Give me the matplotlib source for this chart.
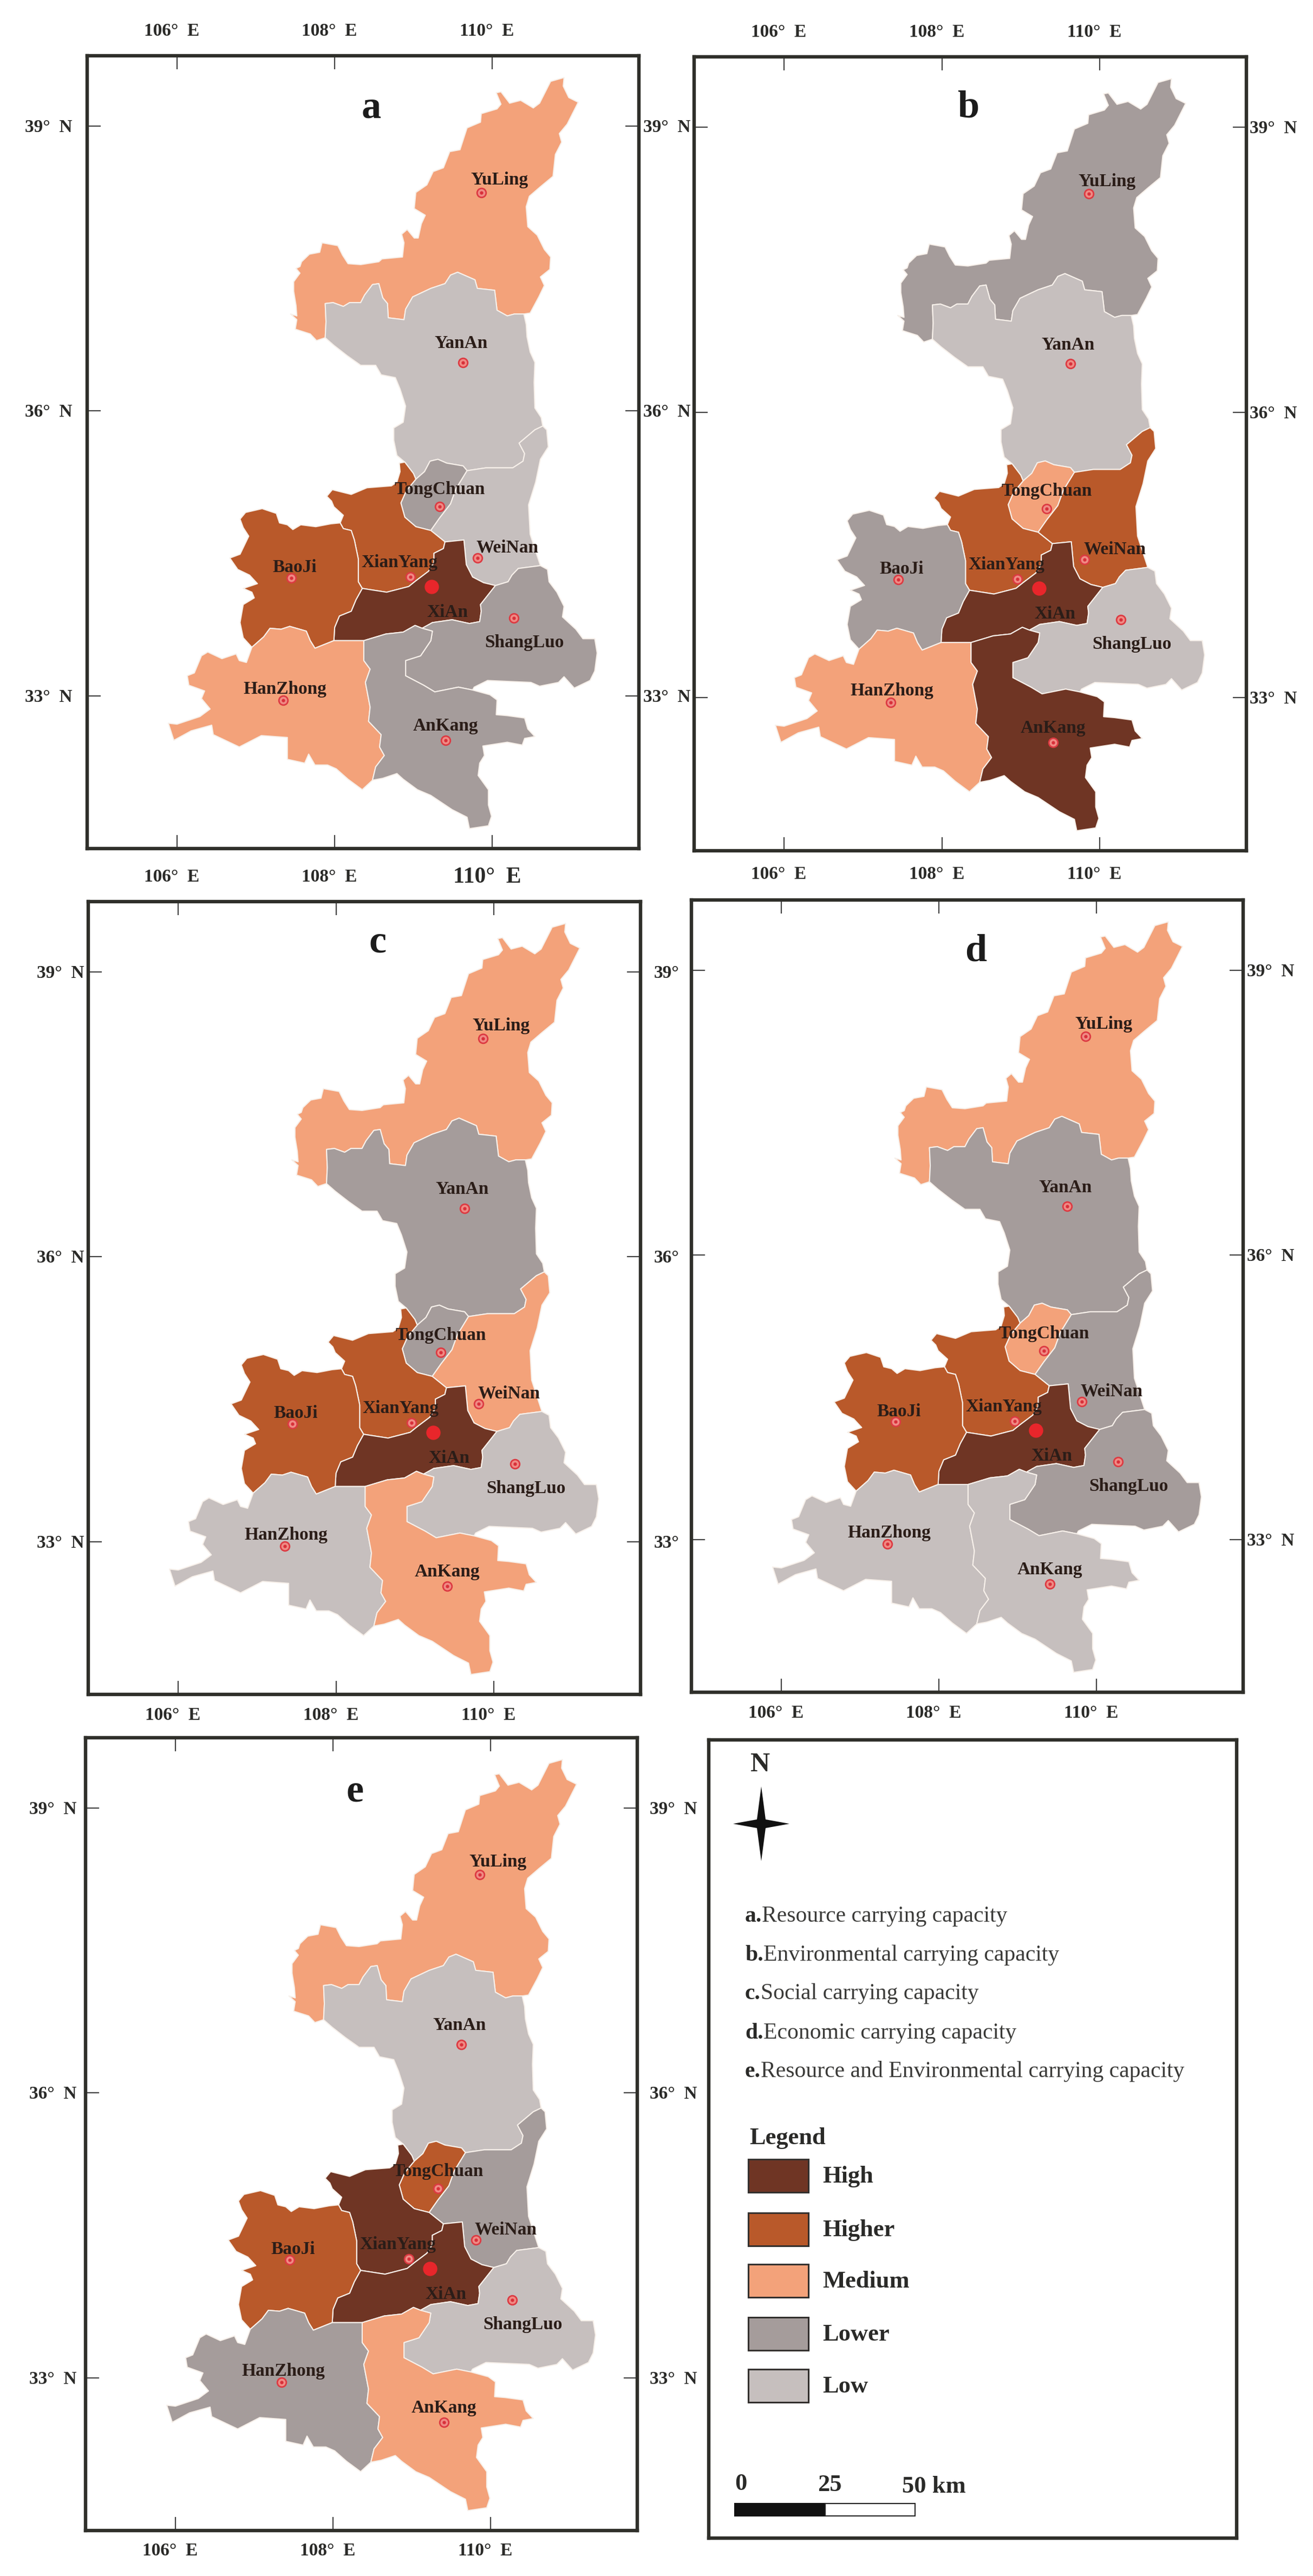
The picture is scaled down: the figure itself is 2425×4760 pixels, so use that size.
import matplotlib
matplotlib.use('Agg')
import matplotlib.pyplot as plt
from matplotlib.patches import Rectangle, Polygon

plt.rcParams['font.family'] = ['Liberation Serif', 'DejaVu Serif']

W, H = 2425, 4760

# border arcs between prefectures, (lon, lat)
yuling_outer = [(107.88, 36.77), (107.77, 36.74), (107.69, 36.81), (107.50, 36.86), (107.52, 36.96), (107.44, 37.02),
                (107.52, 37.00), (107.51, 37.11), (107.48, 37.26), (107.48, 37.36), (107.56, 37.45), (107.51, 37.50),
                (107.56, 37.52), (107.58, 37.57), (107.68, 37.65), (107.81, 37.67), (107.84, 37.77), (108.04, 37.74),
                (108.10, 37.64), (108.17, 37.55), (108.33, 37.54), (108.56, 37.57), (108.60, 37.60), (108.86, 37.62),
                (108.88, 37.77), (108.85, 37.86), (108.92, 37.91), (109.01, 37.82), (109.06, 37.82), (109.10, 37.97),
                (109.15, 38.06), (109.01, 38.13), (109.03, 38.30), (109.17, 38.38), (109.25, 38.52), (109.38, 38.56),
                (109.46, 38.73), (109.59, 38.75), (109.68, 38.98), (109.85, 39.04), (109.86, 39.13), (110.06, 39.18),
                (110.11, 39.23), (110.05, 39.35), (110.11, 39.36), (110.22, 39.24), (110.36, 39.27), (110.52, 39.19),
                (110.60, 39.24), (110.74, 39.47), (110.91, 39.51), (110.90, 39.42), (110.97, 39.30), (111.09, 39.25),
                (110.95, 39.02), (110.85, 38.92), (110.88, 38.83), (110.80, 38.70), (110.77, 38.47), (110.61, 38.36),
                (110.47, 38.26), (110.43, 38.15), (110.45, 37.94), (110.57, 37.85), (110.66, 37.70), (110.74, 37.62),
                (110.73, 37.49), (110.61, 37.41), (110.66, 37.32), (110.59, 37.20), (110.48, 37.03), (110.40, 37.02)]
yuling_yanan = [(110.40, 37.02), (110.28, 37.02), (110.19, 37.00), (110.06, 37.06), (110.03, 37.27), (109.81, 37.29),
                (109.78, 37.38), (109.56, 37.46), (109.47, 37.43), (109.40, 37.34), (109.22, 37.29), (108.99, 37.20),
                (108.90, 37.07), (108.88, 36.96), (108.68, 36.98), (108.67, 37.13), (108.61, 37.19), (108.56, 37.34),
                (108.48, 37.33), (108.38, 37.22), (108.33, 37.14), (108.19, 37.14), (108.11, 37.10), (107.98, 37.14),
                (107.88, 37.13), (107.89, 36.94), (107.88, 36.77)]
yanan_east = [(110.40, 37.02), (110.43, 36.91), (110.44, 36.78), (110.48, 36.62), (110.54, 36.51), (110.53, 36.30),
              (110.54, 36.03), (110.62, 35.93), (110.64, 35.84)]
yanan_weinan = [(110.64, 35.84), (110.54, 35.80), (110.34, 35.66), (110.41, 35.55), (110.39, 35.47), (110.26, 35.40),
                (109.92, 35.40), (109.68, 35.37)]
yanan_tongchuan = [(109.68, 35.37), (109.63, 35.42), (109.42, 35.45), (109.31, 35.49), (109.21, 35.47), (109.14, 35.36),
                   (109.03, 35.28)]
yanan_xianyang = [(109.03, 35.28), (109.00, 35.34), (108.89, 35.46)]
yanan_west = [(108.89, 35.46), (108.79, 35.53), (108.75, 35.69), (108.75, 35.82), (108.87, 35.88), (108.90, 36.05),
              (108.83, 36.23), (108.77, 36.35), (108.59, 36.38), (108.52, 36.48), (108.33, 36.48), (108.16, 36.58),
              (107.99, 36.69), (107.88, 36.77)]
weinan_east = [(110.64, 35.84), (110.69, 35.80), (110.71, 35.62), (110.61, 35.49), (110.55, 35.25), (110.46, 35.01),
               (110.48, 34.70), (110.61, 34.37)]
weinan_shangluo = [(110.61, 34.37), (110.33, 34.34), (110.25, 34.27), (110.20, 34.20), (110.04, 34.16)]
weinan_xian = [(110.04, 34.16), (109.89, 34.19), (109.75, 34.25), (109.67, 34.38), (109.64, 34.64), (109.40, 34.62)]
weinan_xianyang = [(109.40, 34.62), (109.22, 34.74)]
tc_weinan = [(109.22, 34.74), (109.33, 34.87), (109.47, 35.02), (109.54, 35.18), (109.68, 35.37)]
tc_xianyang = [(109.03, 35.28), (108.91, 35.16), (108.84, 35.03), (108.89, 34.88), (109.03, 34.78), (109.22, 34.74)]
xianyang_xian = [(109.40, 34.62), (109.38, 34.55), (109.26, 34.50), (109.26, 34.40), (109.19, 34.31), (109.03, 34.21),
                 (108.94, 34.15), (108.66, 34.09), (108.35, 34.13)]
xianyang_baoji = [(108.35, 34.13), (108.30, 34.20), (108.30, 34.44), (108.25, 34.64), (108.21, 34.74), (108.11, 34.76),
                  (108.07, 34.82)]
xianyang_north = [(108.07, 34.82), (108.11, 34.90), (107.99, 34.99), (107.96, 35.05), (107.90, 35.10), (107.97, 35.17),
                  (108.21, 35.12), (108.41, 35.19), (108.72, 35.21), (108.79, 35.25), (108.83, 35.36), (108.82, 35.45),
                  (108.89, 35.46)]
baoji_xian = [(108.35, 34.13), (108.27, 34.01), (108.21, 33.89), (108.06, 33.84), (108.00, 33.72), (107.99, 33.58)]
baoji_hanzhong = [(107.99, 33.58), (107.75, 33.50), (107.69, 33.58), (107.64, 33.68), (107.43, 33.73), (107.32, 33.70),
                  (107.18, 33.71), (107.10, 33.62), (106.95, 33.51)]
baoji_west = [(106.95, 33.51), (106.84, 33.61), (106.80, 33.77), (106.84, 33.96), (106.98, 34.03), (106.95, 34.09),
              (106.84, 34.13), (107.02, 34.18), (106.92, 34.27), (106.77, 34.33), (106.67, 34.45), (106.80, 34.49),
              (106.91, 34.68), (106.84, 34.77), (106.80, 34.86), (106.87, 34.93), (107.08, 34.97), (107.26, 34.92),
              (107.30, 34.82), (107.40, 34.80), (107.47, 34.75), (107.57, 34.80), (107.76, 34.78), (107.95, 34.81),
              (108.07, 34.82)]
xian_hanzhong = [(107.99, 33.58), (108.37, 33.58)]
xian_ankang = [(108.37, 33.58), (108.65, 33.65), (108.87, 33.67), (109.02, 33.74), (109.11, 33.71)]
xian_shangluo = [(109.11, 33.71), (109.24, 33.77), (109.49, 33.80), (109.71, 33.76), (109.84, 33.78), (109.86, 33.89),
                 (109.85, 33.96), (110.04, 34.16)]
shangluo_east = [(110.61, 34.37), (110.70, 34.33), (110.72, 34.20), (110.82, 34.09), (110.91, 33.94), (110.89, 33.83),
                 (111.06, 33.70), (111.15, 33.60), (111.30, 33.60), (111.33, 33.45), (111.30, 33.26), (111.24, 33.16),
                 (111.04, 33.08), (110.91, 33.20), (110.84, 33.14), (110.60, 33.10), (110.49, 33.14), (109.94, 33.16),
                 (109.77, 33.09), (109.75, 33.06)]
shangluo_ankang = [(109.75, 33.06), (109.57, 33.09), (109.27, 33.04), (109.13, 33.11), (108.90, 33.21), (108.90, 33.37),
                   (109.09, 33.42), (109.22, 33.58), (109.24, 33.68), (109.11, 33.71)]
ankang_south = [(109.75, 33.06), (109.97, 33.01), (110.06, 32.955), (110.05, 32.80), (110.19, 32.79), (110.41, 32.765),
                (110.45, 32.65), (110.54, 32.57), (110.41, 32.55), (110.38, 32.48), (110.19, 32.51), (109.88, 32.47),
                (109.90, 32.37), (109.84, 32.29), (109.82, 32.16), (109.95, 32.01), (109.95, 31.85), (109.99, 31.73),
                (109.95, 31.63), (109.71, 31.60), (109.68, 31.72), (109.49, 31.80), (109.22, 31.95), (109.05, 32.01),
                (108.87, 32.12), (108.79, 32.18), (108.61, 32.13), (108.48, 32.11)]
ankang_hanzhong = [(108.48, 32.11), (108.52, 32.25), (108.63, 32.37), (108.57, 32.46), (108.59, 32.59), (108.43, 32.73),
                   (108.45, 32.88), (108.39, 33.14), (108.45, 33.28), (108.37, 33.37), (108.37, 33.58)]
hanzhong_outer = [(108.48, 32.11), (108.35, 32.01), (108.17, 32.12), (108.02, 32.23), (107.91, 32.27), (107.75, 32.27),
                  (107.67, 32.385), (107.62, 32.29), (107.40, 32.33), (107.40, 32.56), (107.07, 32.58), (106.79, 32.46),
                  (106.46, 32.59), (106.44, 32.69), (106.18, 32.63), (105.96, 32.53), (105.89, 32.71), (106.00, 32.70),
                  (106.29, 32.78), (106.42, 32.86), (106.31, 32.97), (106.35, 33.05), (106.15, 33.11), (106.13, 33.21),
                  (106.22, 33.24), (106.31, 33.42), (106.39, 33.46), (106.57, 33.39), (106.75, 33.44), (106.79, 33.37),
                  (106.88, 33.35), (106.95, 33.51)]


def rev(arc):
    return arc[::-1]


regions = {
    'YuLing': yuling_outer + yuling_yanan,
    'YanAn': rev(yuling_yanan) + yanan_east + yanan_weinan + yanan_tongchuan + yanan_xianyang + yanan_west,
    'TongChuan': rev(yanan_tongchuan) + rev(tc_weinan) + rev(tc_xianyang),
    'WeiNan': rev(yanan_weinan) + weinan_east + weinan_shangluo + weinan_xian + weinan_xianyang + tc_weinan,
    'XianYang': xianyang_north + rev(yanan_xianyang) + tc_xianyang + rev(weinan_xianyang) + xianyang_xian + xianyang_baoji,
    'XiAn': rev(xianyang_xian) + rev(weinan_xian) + rev(xian_shangluo) + rev(xian_ankang) + rev(xian_hanzhong) + rev(baoji_xian),
    'BaoJi': rev(xianyang_baoji) + baoji_xian + baoji_hanzhong + baoji_west,
    'ShangLuo': shangluo_east + shangluo_ankang + xian_shangluo + rev(weinan_shangluo),
    'HanZhong': hanzhong_outer + rev(baoji_hanzhong) + xian_hanzhong + rev(ankang_hanzhong),
    'AnKang': ankang_south + ankang_hanzhong + xian_ankang + rev(shangluo_ankang),
}

cities = ['YuLing', 'YanAn', 'TongChuan', 'WeiNan', 'XianYang', 'XiAn', 'BaoJi', 'ShangLuo', 'HanZhong', 'AnKang']
city_lon = [109.86, 109.63, 109.33, 109.81, 108.96, 109.23, 107.45, 110.27, 107.35, 109.41]
city_lat = [38.30, 36.51, 34.99, 34.45, 34.25, 34.15, 34.24, 33.82, 32.95, 32.53]
label_lon = [110.09, 109.60, 109.33, 110.19, 108.82, 109.43, 107.49, 110.41, 107.37, 109.41]
label_lat = [38.43, 36.71, 35.17, 34.56, 34.40, 33.88, 34.35, 33.56, 33.07, 32.68]

# class of every city in each panel, same order as cities
levels_a = ['Medium', 'Low', 'Lower', 'Low', 'Higher', 'High', 'Higher', 'Lower', 'Medium', 'Lower']
levels_b = ['Lower', 'Low', 'Medium', 'Higher', 'Higher', 'High', 'Lower', 'Low', 'Medium', 'High']
levels_c = ['Medium', 'Lower', 'Lower', 'Medium', 'Higher', 'High', 'Higher', 'Low', 'Low', 'Medium']
levels_d = ['Medium', 'Lower', 'Medium', 'Lower', 'Higher', 'High', 'Higher', 'Lower', 'Low', 'Low']
levels_e = ['Medium', 'Low', 'Higher', 'Lower', 'High', 'High', 'Higher', 'Low', 'Lower', 'Medium']

legend_names = ['High', 'Higher', 'Medium', 'Lower', 'Low']
legend_colors = ['#6F3524', '#B9592A', '#F3A27A', '#A59C9B', '#C6BFBE']
colors = dict(zip(legend_names, legend_colors))

lon_ticks = [106, 108, 110]
lat_ticks = [33, 36, 39]

captions = [('a.', 'Resource carrying capacity'), ('b.', 'Environmental carrying capacity'),
            ('c.', 'Social carrying capacity'), ('d.', 'Economic carrying capacity'),
            ('e.', 'Resource and Environmental carrying capacity')]
scale_km = [0, 25, 50]

# panel: letter, levels, frame in pixels (left, top, right, bottom), letter position,
# gaps to tick labels (left, right, top, bottom), text of the right labels
# the top labels of c, d and e are the bottom labels of the panel above
panels = [
    ('a', levels_a, (161, 103, 1180, 1568), (0.515, 0.066), (27, 8, 45, 53), True),
    ('b', levels_b, (1282, 105, 2302, 1572), (0.496, 0.064), (None, 6, 45, 44), True),
    ('c', levels_c, (163, 1666, 1183, 3131), (0.524, 0.052), (8, 25, None, 38), False),
    ('d', levels_d, (1277, 1663, 2296, 3127), (0.515, 0.065), (None, 7, None, 39), True),
    ('e', levels_e, (158, 3211, 1177, 4676), (0.488, 0.068), (16, 23, None, 37), True),
]

txt = '#2a2a28'
frame_col = '#2f2f2a'
fig = plt.figure(figsize=(W / 100, H / 100), dpi=100)


def make_axes(box):
    l, t, r, b = box
    ax = fig.add_axes([l / W, 1 - b / H, (r - l) / W, (b - t) / H])
    for s in ax.spines.values():
        s.set_linewidth(4.6)
        s.set_color(frame_col)
    return ax


for letter, levels, box, letter_pos, gaps, has_n in panels:
    ax = make_axes(box)
    ax.set_xlim(104.86, 111.86)
    ax.set_ylim(31.39, 39.74)
    ax.set_xticks(lon_ticks)
    ax.set_yticks(lat_ticks)
    ax.tick_params(direction='in', length=18, width=1.6, color='#444444', top=True, right=True,
                   labelbottom=False, labelleft=False)

    for city, level in zip(cities, levels):
        ring = regions[city]
        ax.fill([p[0] for p in ring], [p[1] for p in ring], facecolor=colors[level],
                edgecolor='#F7F0EA', linewidth=1.5, joinstyle='round', zorder=2)

    for i, city in enumerate(cities):
        if city == 'XiAn':
            ax.plot(city_lon[i], city_lat[i], 'o', ms=18, mfc='#E8262B', mec='#E8262B', zorder=3)
        else:
            ax.plot(city_lon[i], city_lat[i], 'o', ms=12, mfc='#F08A84', mec='#DC3A42', mew=2, zorder=3)
            ax.plot(city_lon[i], city_lat[i], 'o', ms=3.5, color='#D8303A', zorder=3)
        ax.text(label_lon[i], label_lat[i], city, fontsize=24, fontweight='bold', color='#2b1d18',
                ha='center', va='center', zorder=4)

    ax.text(letter_pos[0], 1 - letter_pos[1], letter, transform=ax.transAxes, fontsize=52, fontweight='bold',
            color='#1c1c1c', ha='center', va='center')

    # tick labels, gaps are pixels so convert to points
    left_gap, right_gap, top_gap, bottom_gap = gaps
    for lon in lon_ticks:
        if top_gap is not None:
            ax.annotate(f'{lon}°  E', xy=(lon, 1), xycoords=('data', 'axes fraction'),
                        xytext=(-7, top_gap * 0.72), textcoords='offset points', ha='center', va='center',
                        fontsize=24, fontweight='bold', color=txt)
        big = lon == 110 and letter == 'a'
        ax.annotate(f'{lon}°  E', xy=(lon, 0), xycoords=('data', 'axes fraction'),
                    xytext=(-7, -bottom_gap * 0.72), textcoords='offset points', ha='center', va='center',
                    fontsize=30 if big else 24, fontweight='bold', color=txt)
    for lat in lat_ticks:
        if left_gap is not None:
            ax.annotate(f'{lat}°  N', xy=(0, lat), xycoords=('axes fraction', 'data'),
                        xytext=(-left_gap * 0.72, -2), textcoords='offset points', ha='right', va='center',
                        fontsize=24, fontweight='bold', color=txt)
        ax.annotate(f'{lat}°  N' if has_n else f'{lat}°', xy=(1, lat), xycoords=('axes fraction', 'data'),
                    xytext=(right_gap * 0.72, -2), textcoords='offset points', ha='left', va='center',
                    fontsize=24, fontweight='bold', color=txt)

# legend box, drawn in pixels from the frame corner
leg = make_axes((1309, 3215, 2284, 4690))
leg.set_xlim(0, 975)
leg.set_ylim(1475, 0)
leg.set_xticks([])
leg.set_yticks([])

leg.text(95, 46, 'N', fontsize=36, fontweight='bold', color=txt, ha='center', va='center')
star_pts = [(0, -69), (8, -8), (52, 0), (8, 8), (0, 69), (-8, 8), (-52, 0), (-8, -8)]
leg.add_patch(Polygon([(97 + x, 155 + y) for x, y in star_pts], closed=True, facecolor='#111111', edgecolor='none'))

for (head, rest), y in zip(captions, [326, 398, 469, 542, 613]):
    t = leg.text(67, y, head, fontsize=30, fontweight='bold', color=txt, ha='left', va='center')
    leg.annotate(rest, xy=(1, 0), xycoords=t, ha='left', va='bottom', fontsize=30, color='#3a3a38')

leg.text(75, 736, 'Legend', fontsize=32, fontweight='bold', color=txt, ha='left', va='center')
box_tops = [775, 874, 969, 1067, 1163]
for name, col, top in zip(legend_names, legend_colors, box_tops):
    leg.add_patch(Rectangle((73, top), 111, 61, facecolor=col, edgecolor='#33302e', linewidth=2.2))
    leg.text(210, top + 32, name, fontsize=32, fontweight='bold', color=txt, ha='left', va='center')

px_per_km = (381 - 48) / scale_km[-1]
leg.add_patch(Rectangle((48, 1411), px_per_km * scale_km[1], 23, facecolor='#111111', edgecolor='#111111', linewidth=1.5))
leg.add_patch(Rectangle((48 + px_per_km * scale_km[1], 1411), px_per_km * (scale_km[2] - scale_km[1]), 23,
                        facecolor='white', edgecolor='#222222', linewidth=1.5))
leg.text(59, 1375, str(scale_km[0]), fontsize=32, fontweight='bold', color=txt, ha='center', va='center')
leg.text(223, 1377, str(scale_km[1]), fontsize=32, fontweight='bold', color=txt, ha='center', va='center')
leg.text(357, 1380, f'{scale_km[2]} km', fontsize=32, fontweight='bold', color=txt, ha='left', va='center')

plt.savefig('out.png', dpi=100)
